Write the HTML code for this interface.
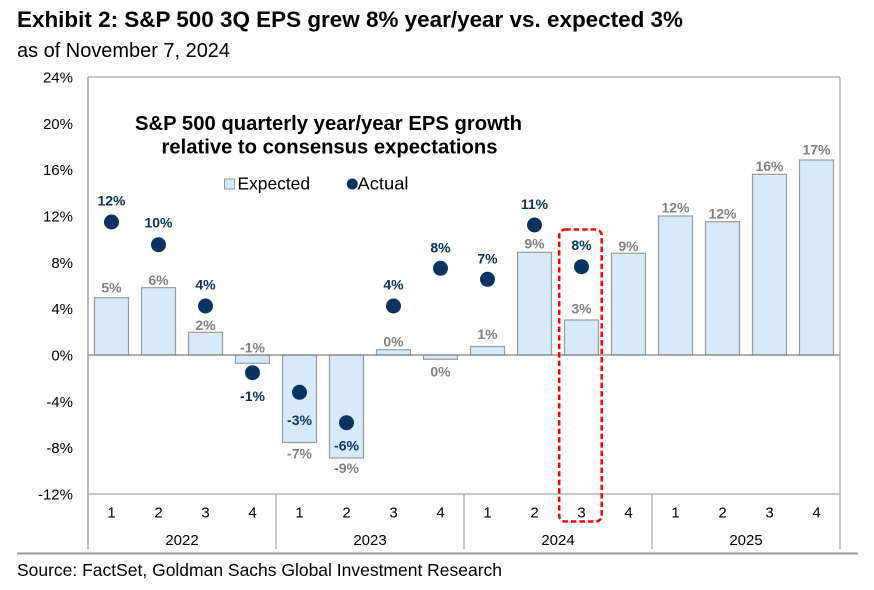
<!DOCTYPE html>
<html>
<head>
<meta charset="utf-8">
<style>
html,body{margin:0;padding:0;background:#fff;}
svg{display:block;font-family:"Liberation Sans",Arial,sans-serif;}
</style>
</head>
<body>
<svg width="874" height="590" viewBox="0 0 874 590" xmlns="http://www.w3.org/2000/svg">
<rect width="874" height="590" fill="#fff"/>
<!-- Titles -->
<text x="17" y="27" font-size="22" font-weight="bold" fill="#000" textLength="666" lengthAdjust="spacingAndGlyphs">Exhibit 2: S&amp;P 500 3Q EPS grew 8% year/year vs. expected 3%</text>
<text x="17" y="57" font-size="20" fill="#000" textLength="213" lengthAdjust="spacingAndGlyphs">as of November 7, 2024</text>

<!-- Plot frame -->
<line x1="88" y1="77" x2="840" y2="77" stroke="#a6a6a6" stroke-width="1.2"/>
<line x1="840" y1="77" x2="840" y2="549" stroke="#a6a6a6" stroke-width="1.2"/>
<line x1="88" y1="77" x2="88" y2="549" stroke="#8c8c8c" stroke-width="1.2"/>
<line x1="88" y1="494" x2="840" y2="494" stroke="#a6a6a6" stroke-width="1.2"/>
<line x1="276" y1="494" x2="276" y2="549" stroke="#a6a6a6" stroke-width="1.2"/>
<line x1="464" y1="494" x2="464" y2="549" stroke="#a6a6a6" stroke-width="1.2"/>
<line x1="652" y1="494" x2="652" y2="549" stroke="#a6a6a6" stroke-width="1.2"/>
<line x1="17" y1="553.5" x2="858" y2="553.5" stroke="#999" stroke-width="2"/>

<!-- Y labels -->
<g font-size="15" fill="#000" text-anchor="end">
<text x="73" y="82.5">24%</text>
<text x="73" y="128.8">20%</text>
<text x="73" y="175.2">16%</text>
<text x="73" y="221.5">12%</text>
<text x="73" y="267.8">8%</text>
<text x="73" y="314.2">4%</text>
<text x="73" y="360.5">0%</text>
<text x="73" y="406.8">-4%</text>
<text x="73" y="453.2">-8%</text>
<text x="73" y="499.5">-12%</text>
</g>

<!-- X labels -->
<g font-size="15" fill="#000" text-anchor="middle">
<text x="111.5" y="517.5">1</text><text x="158.5" y="517.5">2</text><text x="205.5" y="517.5">3</text><text x="252.5" y="517.5">4</text>
<text x="299.5" y="517.5">1</text><text x="346.5" y="517.5">2</text><text x="393.5" y="517.5">3</text><text x="440.5" y="517.5">4</text>
<text x="487.5" y="517.5">1</text><text x="534.5" y="517.5">2</text><text x="581.5" y="517.5">3</text><text x="628.5" y="517.5">4</text>
<text x="675.5" y="517.5">1</text><text x="722.5" y="517.5">2</text><text x="769.5" y="517.5">3</text><text x="816.5" y="517.5">4</text>
<text x="182" y="545">2022</text><text x="370" y="545">2023</text><text x="558" y="545">2024</text><text x="746" y="545">2025</text>
</g>

<!-- Bars -->
<g fill="#d6eafb" stroke="#9a9a9a" stroke-width="1.2">
<rect x="94.5" y="297.7" width="34" height="57.3"/>
<rect x="141.5" y="287.7" width="34" height="67.3"/>
<rect x="188.5" y="332.3" width="34" height="22.7"/>
<rect x="235.5" y="355" width="34" height="8.3"/>
<rect x="282.5" y="355" width="34" height="87.5"/>
<rect x="329.5" y="355" width="34" height="103"/>
<rect x="376.5" y="349.7" width="34" height="5.3"/>
<rect x="423.5" y="355" width="34" height="4.3"/>
<rect x="470.5" y="346.5" width="34" height="8.5"/>
<rect x="517.5" y="252.3" width="34" height="102.7"/>
<rect x="564.5" y="320" width="34" height="35"/>
<rect x="611.5" y="253.3" width="34" height="101.7"/>
<rect x="658.5" y="216" width="34" height="139"/>
<rect x="705.5" y="221.7" width="34" height="133.3"/>
<rect x="752.5" y="174.3" width="34" height="180.7"/>
<rect x="799.5" y="160" width="34" height="195"/>
</g>

<!-- Zero line -->
<line x1="88" y1="355" x2="840" y2="355" stroke="#808080" stroke-width="1.3"/>

<!-- Expected labels -->
<g font-size="14" font-weight="bold" fill="#808080" text-anchor="middle">
<text x="111.5" y="292.3">5%</text>
<text x="158.5" y="285">6%</text>
<text x="205.5" y="330">2%</text>
<text x="252.5" y="352.3">-1%</text>
<text x="299.5" y="458.3">-7%</text>
<text x="346.5" y="473">-9%</text>
<text x="393.5" y="346.3">0%</text>
<text x="440.5" y="376.7">0%</text>
<text x="487.5" y="339">1%</text>
<text x="534.5" y="248.3">9%</text>
<text x="581.5" y="313.3">3%</text>
<text x="628.5" y="251">9%</text>
<text x="675.5" y="212.7">12%</text>
<text x="722.5" y="218.3">12%</text>
<text x="769.5" y="171">16%</text>
<text x="816.5" y="154.3">17%</text>
</g>

<!-- Actual dots -->
<g fill="#0b3361">
<circle cx="111.5" cy="222" r="7.5"/>
<circle cx="158.5" cy="244.7" r="7.5"/>
<circle cx="205.5" cy="306" r="7.5"/>
<circle cx="252.5" cy="372.7" r="7.5"/>
<circle cx="299.5" cy="392.3" r="7.5"/>
<circle cx="346.5" cy="422.7" r="7.5"/>
<circle cx="393.5" cy="306" r="7.5"/>
<circle cx="440.5" cy="268.3" r="7.5"/>
<circle cx="487.5" cy="279.3" r="7.5"/>
<circle cx="534.5" cy="225" r="7.5"/>
<circle cx="581.5" cy="266.7" r="7.5"/>
</g>

<!-- Actual labels -->
<g font-size="14" font-weight="bold" fill="#0b3361" text-anchor="middle">
<text x="111.5" y="205.7">12%</text>
<text x="158.5" y="227.7">10%</text>
<text x="205.5" y="289.7">4%</text>
<text x="252.5" y="401">-1%</text>
<text x="299.5" y="425">-3%</text>
<text x="346.5" y="450.7">-6%</text>
<text x="393.5" y="289.3">4%</text>
<text x="440.5" y="252.3">8%</text>
<text x="487.5" y="263.3">7%</text>
<text x="534.5" y="209">11%</text>
<text x="581.5" y="250">8%</text>
</g>

<!-- Inner title -->
<g font-size="20" font-weight="bold" fill="#000" text-anchor="middle">
<text x="328.5" y="130" textLength="387" lengthAdjust="spacingAndGlyphs">S&amp;P 500 quarterly year/year EPS growth</text>
<text x="329.5" y="153.3" textLength="336" lengthAdjust="spacingAndGlyphs">relative to consensus expectations</text>
</g>

<!-- Legend -->
<rect x="224.5" y="179" width="10" height="10" fill="#d6eafb" stroke="#9a9a9a" stroke-width="1"/>
<text x="237.5" y="189.5" font-size="17.5" fill="#000" textLength="72.5" lengthAdjust="spacingAndGlyphs">Expected</text>
<circle cx="352.3" cy="184" r="5.5" fill="#0b3361"/>
<text x="357.5" y="189.5" font-size="17.5" fill="#000" textLength="51" lengthAdjust="spacingAndGlyphs">Actual</text>

<!-- Highlight box -->
<rect x="559.2" y="229.5" width="42.5" height="292" rx="6" ry="6" fill="none" stroke="#ff0000" stroke-width="2.5" stroke-dasharray="5.5 3"/>

<!-- Source -->
<text x="17" y="576" font-size="17.5" fill="#000" textLength="485" lengthAdjust="spacingAndGlyphs">Source: FactSet, Goldman Sachs Global Investment Research</text>
</svg>
</body>
</html>
